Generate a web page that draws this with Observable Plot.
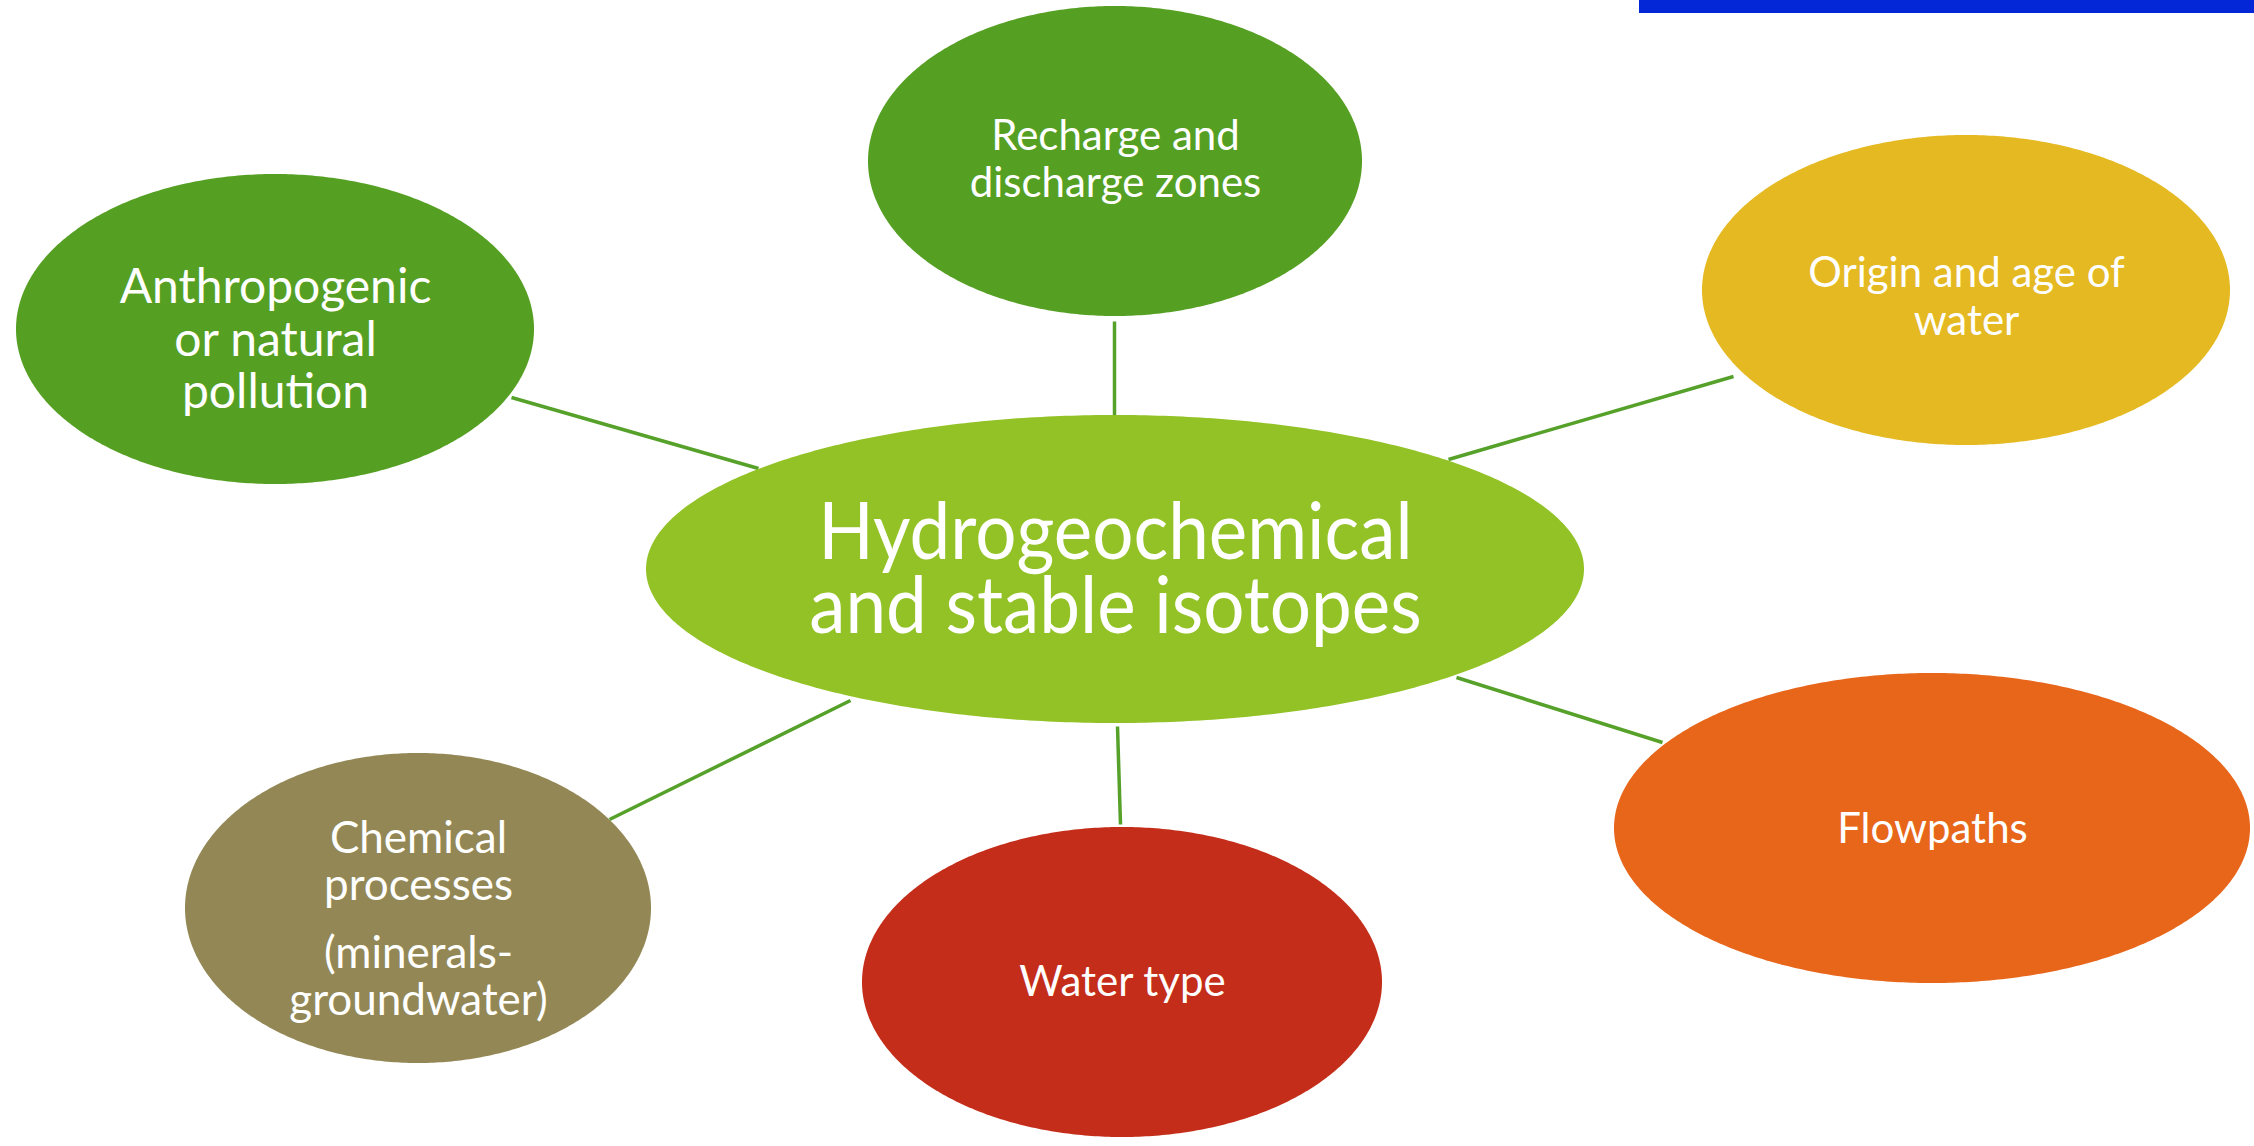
<!DOCTYPE html>
<html>
<head>
<meta charset="utf-8">
<script src="https://cdn.jsdelivr.net/npm/d3@7"></script>
<script src="https://cdn.jsdelivr.net/npm/@observablehq/plot@0.6"></script>
<style>
  html, body { margin: 0; padding: 0; background: #ffffff; }
  #chart svg { display: block; }
</style>
</head>
<body>
<div id="chart"></div>
<script>
// Topics (nodes) of the diagram
const nodes = ["center", "recharge", "pollution", "origin", "flowpaths", "watertype", "chemical"];
const nodeColors = ["#92C225", "#55A023", "#55A023", "#E5B921", "#E7661A", "#C42D19", "#938855"];

// Layout of the ellipses (pixel space)
const nodeCx = [1115, 1115, 275, 1966, 1932, 1122, 418];
const nodeCy = [569, 161, 329, 290, 828, 982, 908];
const nodeRx = [469, 247, 259, 264, 318, 260, 233];
const nodeRy = [154, 155, 155, 155, 155, 155, 155];

// Text lines: node, text, baseline y, font size
const lineNode = ["center", "center", "recharge", "recharge", "pollution", "pollution", "pollution",
  "origin", "origin", "flowpaths", "watertype", "chemical", "chemical", "chemical", "chemical"];
const lineText = ["Hydrogeochemical", "and stable isotopes", "Recharge and", "discharge zones",
  "Anthropogenic", "or natural", "pollution", "Origin and age of", "water", "Flowpaths",
  "Water type", "Chemical", "processes", "(minerals-", "groundwater)"];
const lineY = [558, 632, 149, 196, 302, 355, 407, 286, 334, 842, 995, 852, 899, 967, 1014];
const lineSize = [80, 80, 42, 42, 48, 48, 48, 42, 42, 42, 42, 44, 44, 44, 44];

// Connectors
const linkX1 = [1114, 511, 1448, 1456, 1117, 850];
const linkY1 = [321, 397, 459, 677, 726, 700];
const linkX2 = [1114, 758, 1733, 1662, 1120, 609];
const linkY2 = [415, 468, 376, 742, 824, 819];

// Build ellipse outlines as areas
const ellipsePts = [];
const N = 240;
nodes.forEach((n, i) => {
  for (let k = 0; k <= N; k++) {
    const t = Math.PI * k / N;
    const h = nodeRy[i] * Math.sin(t);
    ellipsePts.push({node: n, color: nodeColors[i], x: nodeCx[i] - nodeRx[i] * Math.cos(t), y1: nodeCy[i] - h, y2: nodeCy[i] + h});
  }
});

const links = linkX1.map((d, i) => ({x1: linkX1[i], y1: linkY1[i], x2: linkX2[i], y2: linkY2[i]}));
const lines = lineText.map((t, i) => {
  const j = nodes.indexOf(lineNode[i]);
  return {text: t, x: nodeCx[j], y: lineY[i], size: lineSize[i]};
});

const W = 2254, H = 1146;
const chart = Plot.plot({
  width: W, height: H,
  margin: 0,
  x: {domain: [0, W], range: [0, W], axis: null},
  y: {domain: [0, H], range: [0, H], axis: null},
  style: {background: "#ffffff", fontFamily: "Lato, 'Open Sans', sans-serif"},
  marks: [
    Plot.rect([{x1: 1639, x2: W, y1: 0, y2: 13}], {x1: "x1", x2: "x2", y1: "y1", y2: "y2", fill: "#0327D6"}),
    Plot.link(links, {x1: "x1", y1: "y1", x2: "x2", y2: "y2", stroke: "#56A12A", strokeWidth: 3.5}),
    Plot.areaY(ellipsePts, {x: "x", y1: "y1", y2: "y2", z: "node", fill: "color", curve: "linear"}),
    ...[80, 48, 44, 42].map(s => Plot.text(lines.filter(d => d.size === s), {
      x: "x", y: "y", text: "text", fill: "#ffffff", fontSize: s, lineAnchor: "bottom", textAnchor: "middle"
    }))
  ]
});
document.getElementById("chart").appendChild(chart);

// Condense the central title slightly (narrow typeface in the original)
d3.select(chart).selectAll("g[font-size='80'] text").each(function() {
  const len = this.getComputedTextLength();
  this.setAttribute("textLength", (len * 0.91).toFixed(1));
  this.setAttribute("lengthAdjust", "spacingAndGlyphs");
});
</script>
</body>
</html>
